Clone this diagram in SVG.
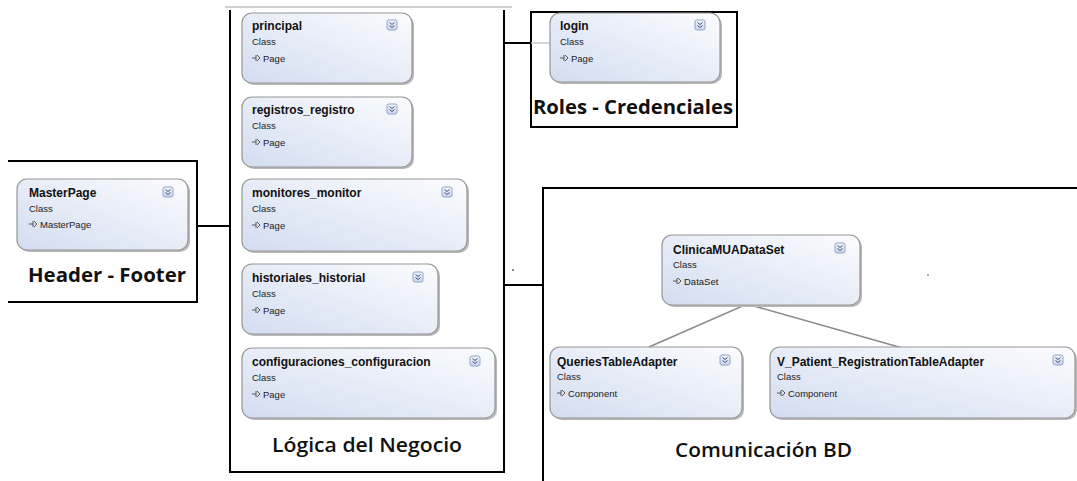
<svg xmlns="http://www.w3.org/2000/svg" xmlns:xlink="http://www.w3.org/1999/xlink" width="1077" height="481" viewBox="0 0 1077 481">
<defs>
<linearGradient id="boxGrad" x1="0" y1="1" x2="1" y2="0">
<stop offset="0" stop-color="#d3dcf0"/>
<stop offset="0.55" stop-color="#e9eef8"/>
<stop offset="1" stop-color="#fbfcfe"/>
</linearGradient>
<linearGradient id="iconGrad" x1="0" y1="0" x2="0" y2="1">
<stop offset="0" stop-color="#f4f7fc"/>
<stop offset="1" stop-color="#c9d6ee"/>
</linearGradient>
<g id="collapse">
<rect x="0" y="0" width="10" height="10" rx="2" fill="url(#iconGrad)" stroke="#8ea3c8" stroke-width="1"/>
<path d="M2.5,2.5 L5,4.5 L7.5,2.5 M2.5,5.5 L5,7.5 L7.5,5.5" fill="none" stroke="#3b4f7a" stroke-width="1"/>
</g>
<g id="member">
<path d="M0,0 H4 M4,-3 V3 M5,-3 L8,0 L5,3" fill="none" stroke="#555" stroke-width="1"/>
</g>
</defs>
<style>
.frame{fill:none;stroke:#000;stroke-width:2}
.conn{fill:none;stroke:#000;stroke-width:2}
.assoc{fill:none;stroke:#8a8a8a;stroke-width:1.6}
.shadow{fill:#b8b8b8}
.box{fill:url(#boxGrad);stroke:#979797;stroke-width:1.2}
.title{font-family:"Liberation Sans",Arial,sans-serif;font-size:12px;font-weight:bold;fill:#111}
.sub{font-family:"Liberation Sans",Arial,sans-serif;font-size:9.5px;fill:#222}
.big{font-family:"Open Sans","Liberation Sans",sans-serif;font-size:20px;font-weight:700;fill:#111}
.big2{font-family:"Open Sans","Liberation Sans",sans-serif;font-size:20px;font-weight:600;fill:#111}
</style>

<!-- containers -->
<g id="containers">
<path class="frame" d="M8,161 H197 V302 H8"/>
<line x1="225" y1="7" x2="512" y2="7" stroke="#cfcfcf" stroke-width="2"/>
<path class="frame" d="M230,10 V472 H504 V10"/>
<rect class="frame" x="531" y="12" width="206" height="115"/>
<path class="frame" d="M543,481 V188 H1077"/>
<rect x="512" y="269" width="2" height="2" fill="#888"/>
<rect x="927" y="274" width="2" height="2" fill="#aaa"/>
</g>

<!-- connectors -->
<g id="connectors">
<line class="conn" x1="197" y1="226" x2="230" y2="226"/>
<line class="conn" x1="504" y1="43" x2="531" y2="43"/>
<line x1="531" y1="43" x2="550" y2="43" stroke="#c8c8c8" stroke-width="1.5"/>
<line class="conn" x1="504" y1="285" x2="543" y2="285"/>
<path class="assoc" d="M649,347 L747,304 L906,349"/>
</g>

<!-- nodes -->
<g id="MasterPage" transform="translate(17,179)">
<rect class="shadow" x="2" y="2" width="171" height="71" rx="10"/>
<rect class="box" width="171" height="71" rx="10"/>
<text class="title" x="12" y="18">MasterPage</text>
<text class="sub" x="12" y="33">Class</text>
<use href="#member" x="12" y="45"/>
<text class="sub" x="23" y="49">MasterPage</text>
<use href="#collapse" x="146" y="8"/>
</g>
<text class="big" x="28" y="282" textLength="158" lengthAdjust="spacingAndGlyphs">Header - Footer</text>

<g id="principal" transform="translate(242,13)">
<rect class="shadow" x="2" y="2" width="170" height="70" rx="10"/>
<rect class="box" width="170" height="70" rx="10"/>
<text class="title" x="10" y="17">principal</text>
<text class="sub" x="10" y="32">Class</text>
<use href="#member" x="10" y="45"/>
<text class="sub" x="21" y="49">Page</text>
<use href="#collapse" x="145" y="7"/>
</g>

<g id="registros_registro" transform="translate(242,97)">
<rect class="shadow" x="2" y="2" width="170" height="70" rx="10"/>
<rect class="box" width="170" height="70" rx="10"/>
<text class="title" x="10" y="17">registros_registro</text>
<text class="sub" x="10" y="32">Class</text>
<use href="#member" x="10" y="45"/>
<text class="sub" x="21" y="49">Page</text>
<use href="#collapse" x="145" y="7"/>
</g>

<g id="monitores_monitor" transform="translate(242,179)">
<rect class="shadow" x="2" y="2" width="225" height="72" rx="10"/>
<rect class="box" width="225" height="72" rx="10"/>
<text class="title" x="10" y="18">monitores_monitor</text>
<text class="sub" x="10" y="33">Class</text>
<use href="#member" x="10" y="46"/>
<text class="sub" x="21" y="50">Page</text>
<use href="#collapse" x="200" y="8"/>
</g>

<g id="historiales_historial" transform="translate(242,264)">
<rect class="shadow" x="2" y="2" width="196" height="70" rx="10"/>
<rect class="box" width="196" height="70" rx="10"/>
<text class="title" x="10" y="18">historiales_historial</text>
<text class="sub" x="10" y="33">Class</text>
<use href="#member" x="10" y="46"/>
<text class="sub" x="21" y="50">Page</text>
<use href="#collapse" x="171" y="8"/>
</g>

<g id="configuraciones_configuracion" transform="translate(242,348)">
<rect class="shadow" x="2" y="2" width="253" height="70" rx="10"/>
<rect class="box" width="253" height="70" rx="10"/>
<text class="title" x="10" y="18">configuraciones_configuracion</text>
<text class="sub" x="10" y="33">Class</text>
<use href="#member" x="10" y="46"/>
<text class="sub" x="21" y="50">Page</text>
<use href="#collapse" x="228" y="8"/>
</g>
<text class="big2" x="272" y="452" textLength="190" lengthAdjust="spacingAndGlyphs">Lógica del Negocio</text>

<g id="login" transform="translate(550,13)">
<rect class="shadow" x="2" y="2" width="170" height="69" rx="10"/>
<rect class="box" width="170" height="69" rx="10"/>
<text class="title" x="10" y="17">login</text>
<text class="sub" x="10" y="32">Class</text>
<use href="#member" x="10" y="45"/>
<text class="sub" x="21" y="49">Page</text>
<use href="#collapse" x="145" y="7"/>
</g>
<text class="big" x="533" y="114" textLength="200" lengthAdjust="spacingAndGlyphs">Roles - Credenciales</text>

<g id="ClinicaMUADataSet" transform="translate(662,235)">
<rect class="shadow" x="2" y="2" width="198" height="70" rx="10"/>
<rect class="box" width="198" height="70" rx="10"/>
<text class="title" x="11" y="19">ClinicaMUADataSet</text>
<text class="sub" x="11" y="33">Class</text>
<use href="#member" x="11" y="46"/>
<text class="sub" x="22" y="50">DataSet</text>
<use href="#collapse" x="173" y="8"/>
</g>

<g id="QueriesTableAdapter" transform="translate(550,347)">
<rect class="shadow" x="2" y="2" width="192" height="71" rx="10"/>
<rect class="box" width="192" height="71" rx="10"/>
<text class="title" x="7" y="19">QueriesTableAdapter</text>
<text class="sub" x="7" y="33">Class</text>
<use href="#member" x="7" y="46"/>
<text class="sub" x="18" y="50">Component</text>
<use href="#collapse" x="170" y="8"/>
</g>

<g id="V_Patient_RegistrationTableAdapter" transform="translate(770,347)">
<rect class="shadow" x="2" y="2" width="305" height="71" rx="10"/>
<rect class="box" width="305" height="71" rx="10"/>
<text class="title" x="7" y="19">V_Patient_RegistrationTableAdapter</text>
<text class="sub" x="7" y="33">Class</text>
<use href="#member" x="7" y="46"/>
<text class="sub" x="18" y="50">Component</text>
<use href="#collapse" x="283" y="8"/>
</g>
<text class="big2" x="675" y="457" textLength="177" lengthAdjust="spacingAndGlyphs">Comunicación BD</text>
</svg>
